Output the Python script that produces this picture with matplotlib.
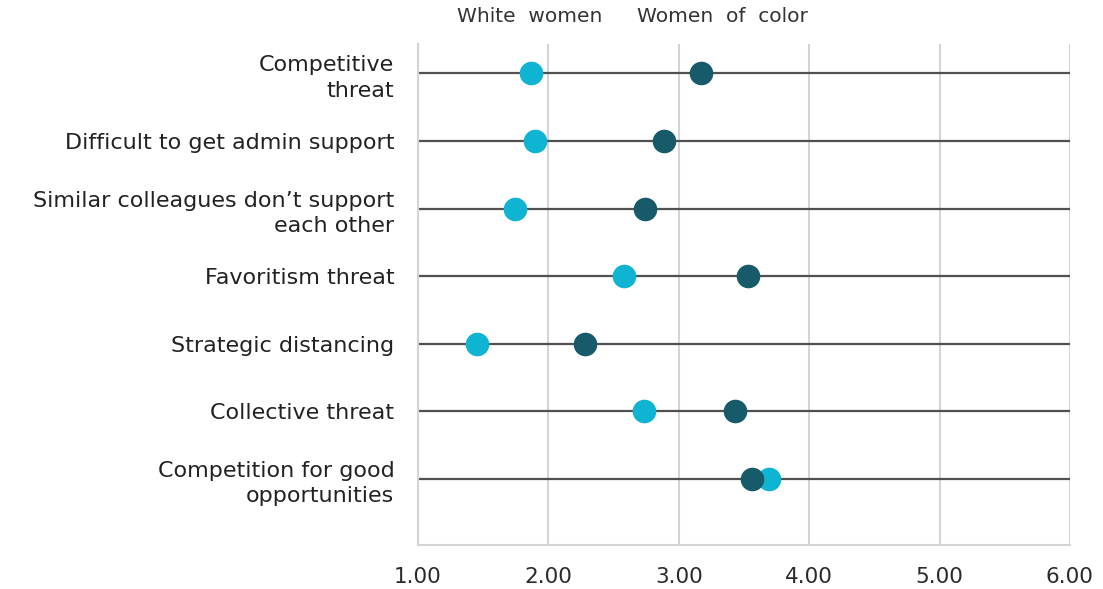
import matplotlib
matplotlib.use("Agg")
import matplotlib.pyplot as plt

categories = [
    "Competitive\nthreat",
    "Difficult to get admin support",
    "Similar colleagues don\u2019t support\neach other",
    "Favoritism threat",
    "Strategic distancing",
    "Collective threat",
    "Competition for good\nopportunities",
]
white_women = [1.87, 1.90, 1.74, 2.58, 1.45, 2.73, 3.69]
women_of_color = [3.17, 2.89, 2.74, 3.53, 2.28, 3.43, 3.56]
x_ticks = [1.0, 2.0, 3.0, 4.0, 5.0, 6.0]
x_tick_labels = ["1.00", "2.00", "3.00", "4.00", "5.00", "6.00"]

c_white = "#10b4d3"
c_color = "#175b6a"

plt.rcParams["font.family"] = ["DejaVu Sans"]

fig = plt.figure(figsize=(11.03, 5.89), dpi=100)
ax = fig.add_axes([0.379, 0.0747, 0.591, 0.850])

ys = list(range(len(categories)))
for y in ys:
    ax.plot([1.0, 6.0], [y, y], color="#505050", lw=1.6, zorder=2,
            solid_capstyle="butt")

ax.plot(white_women, ys, "o", color=c_white, ms=17, zorder=3, mec="none")
ax.plot(women_of_color, ys, "o", color=c_color, ms=17, zorder=4, mec="none")

ax.set_xlim(1.0, 6.0)
ax.set_ylim(6.98, -0.43)
ax.set_xticks(x_ticks)
ax.set_xticklabels(x_tick_labels, fontsize=15.5, color="#2a2a2a")
ax.set_yticks(ys)
ax.set_yticklabels(categories, fontsize=16, color="#222222", ha="right",
                   linespacing=1.35)
ax.tick_params(axis="x", length=0, pad=16)
ax.tick_params(axis="y", length=0, pad=17)

ax.grid(axis="x", color="#d4d4d4", lw=1.5, zorder=1)
for s in ["top", "right"]:
    ax.spines[s].set_visible(False)
for s in ["left", "bottom"]:
    ax.spines[s].set_color("#d4d4d4")
    ax.spines[s].set_linewidth(1.5)

fig.text(530 / 1103, 1 - 17 / 589, "White  women", ha="center", va="center",
         fontsize=14.5, color="#333333")
fig.text(722 / 1103, 1 - 17 / 589, "Women  of  color", ha="center",
         va="center", fontsize=14.5, color="#333333")

fig.savefig("out.png", dpi=100)
